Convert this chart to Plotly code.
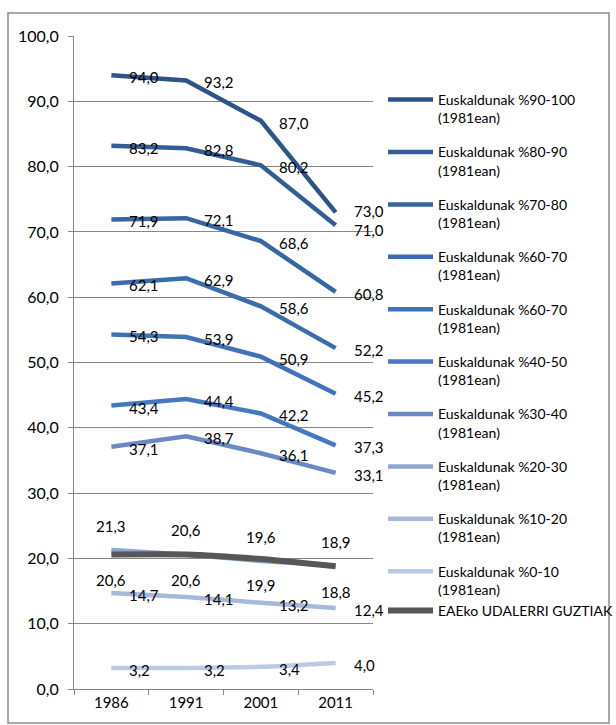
import plotly.graph_objects as go

years = ["1986", "1991", "2001", "2011"]

series_names = [
    "Euskaldunak %90-100<br>(1981ean)",
    "Euskaldunak %80-90<br>(1981ean)",
    "Euskaldunak %70-80<br>(1981ean)",
    "Euskaldunak %60-70<br>(1981ean)",
    "Euskaldunak %60-70<br>(1981ean)",
    "Euskaldunak %40-50<br>(1981ean)",
    "Euskaldunak %30-40<br>(1981ean)",
    "Euskaldunak %20-30<br>(1981ean)",
    "Euskaldunak %10-20<br>(1981ean)",
    "Euskaldunak %0-10<br>(1981ean)",
    "EAEko UDALERRI GUZTIAK",
]

s90_100 = [94.0, 93.2, 87.0, 73.0]
s80_90 = [83.2, 82.8, 80.2, 71.0]
s70_80 = [71.9, 72.1, 68.6, 60.8]
s60_70 = [62.1, 62.9, 58.6, 52.2]
s50_60 = [54.3, 53.9, 50.9, 45.2]
s40_50 = [43.4, 44.4, 42.2, 37.3]
s30_40 = [37.1, 38.7, 36.1, 33.1]
s20_30 = [21.3, 20.6, 19.6, 18.9]
s10_20 = [14.7, 14.1, 13.2, 12.4]
s0_10 = [3.2, 3.2, 3.4, 4.0]
eae_all = [20.6, 20.6, 19.9, 18.8]

series_values = [s90_100, s80_90, s70_80, s60_70, s50_60, s40_50,
                 s30_40, s20_30, s10_20, s0_10, eae_all]

colors = ["#2C5486", "#325D95", "#3666A4", "#3A6CAE", "#3F72B6", "#4579BF",
          "#6A8AC6", "#8EA6D2", "#A6B9DC", "#BCCBE5", "#575757"]
widths = [4.5] * 10 + [6]
# label placement: 'right', 'above', 'below'
label_pos = ["right"] * 7 + ["above", "right", "right", "below"]
shapes_ = ["linear"] * 7 + ["spline", "spline", "spline", "spline"]
groups = [f"g{i}" for i in range(10)] + ["g9"]
# small vertical nudges (px) to keep two crowded labels apart
nudges = {(0, 3): 3, (1, 3): -3}

FONT = "Lato, 'Open Sans', sans-serif"

fig = go.Figure()
annotations = []
for k, (name, vals, col, w, pos, shp, grp) in enumerate(
        zip(series_names, series_values, colors, widths, label_pos, shapes_, groups)):
    fig.add_trace(go.Scatter(
        x=years, y=vals, mode="lines", name=name,
        line=dict(color=col, width=w, shape=shp, smoothing=0.5),
        legendgroup=grp,
        hoverinfo="skip",
    ))
    for i, yv in enumerate(vals):
        txt = f"{yv:.1f}".replace(".", ",")
        nd = nudges.get((k, i), 0)
        if pos == "right":
            annotations.append(dict(x=i, y=yv, text=txt, showarrow=False,
                                    xanchor="left", yanchor="middle",
                                    xshift=16, yshift=-2 + nd))
        elif pos == "above":
            annotations.append(dict(x=i, y=yv, text=txt, showarrow=False,
                                    xanchor="center", yanchor="middle",
                                    yshift=24 + nd))
        else:
            annotations.append(dict(x=i, y=yv, text=txt, showarrow=False,
                                    xanchor="center", yanchor="middle",
                                    yshift=-26 + nd))

W, H = 616, 725
L, R, T, B = 74, 243, 36, 36
pw, ph = W - L - R, H - T - B

fig.update_layout(
    width=W, height=H,
    margin=dict(l=L, r=R, t=T, b=B, pad=0, autoexpand=False),
    paper_bgcolor="white", plot_bgcolor="white",
    separators=", ",
    font=dict(family=FONT, size=15, color="black"),
    showlegend=True,
    legend=dict(
        x=(383 - L) / pw, xanchor="left",
        y=1 - (84 - T) / ph, yanchor="top",
        valign="top",
        font=dict(family=FONT, size=14, color="black"),
        tracegroupgap=13,
        itemwidth=45,
        bgcolor="rgba(0,0,0,0)",
    ),
    annotations=annotations,
    shapes=[dict(type="rect", xref="paper", yref="paper",
                 x0=(8 - L) / pw, x1=(609 - L) / pw,
                 y0=(689 - 723) / ph, y1=(689 - 13) / ph,
                 line=dict(color="#8C8C8C", width=1.5), layer="below")],
)

fig.update_xaxes(
    type="category", range=[-0.5, 3.5],
    showline=True, linecolor="#868686", linewidth=1,
    ticks="outside", tickson="boundaries", ticklen=5, tickcolor="#868686",
    showgrid=False, tickfont=dict(family=FONT, size=15),
)
fig.update_yaxes(
    range=[0, 100], dtick=10, tickformat=".1f",
    showline=True, linecolor="#868686", linewidth=1,
    ticks="outside", ticklen=5, tickcolor="#868686",
    showgrid=True, gridcolor="#868686", gridwidth=1,
    zeroline=False, ticklabelstandoff=6,
    tickfont=dict(family=FONT, size=16),
)

fig.write_html("out.html",
               config={"displayModeBar": False},
               post_script="document.body.style.margin='0px';")
